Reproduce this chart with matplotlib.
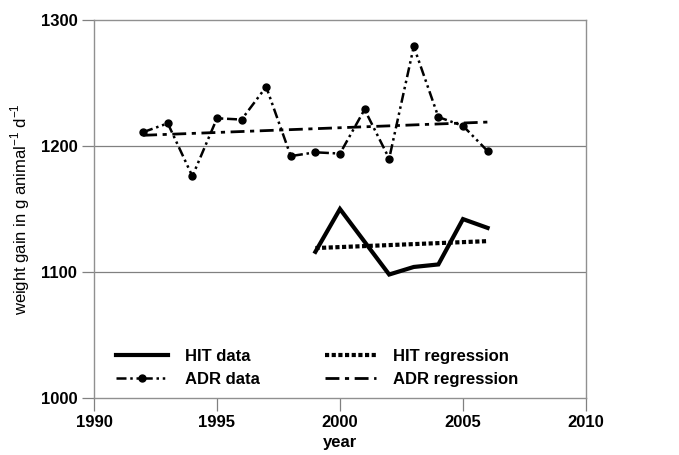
import matplotlib.pyplot as plt

# ADR series
adr_years = [1992, 1993, 1994, 1995, 1996, 1997, 1998, 1999, 2000, 2001, 2002, 2003, 2004, 2005, 2006]
adr_data = [1211, 1218, 1176, 1222, 1221, 1247, 1192, 1195, 1194, 1229, 1190, 1279, 1223, 1216, 1196]
adr_reg_years = [1992, 2006]
adr_reg = [1208.5, 1219]

# HIT series
hit_years = [1999, 2000, 2001, 2002, 2003, 2004, 2005, 2006]
hit_data = [1116, 1150, 1124, 1098, 1104, 1106, 1142, 1135]
hit_reg_years = [1999, 2006]
hit_reg = [1119, 1124.5]

yticks = [1000, 1100, 1200, 1300]
xticks = [1990, 1995, 2000, 2005, 2010]

plt.rcParams['font.family'] = ['Liberation Sans', 'DejaVu Sans']

fig = plt.figure(figsize=(6.79, 4.55), dpi=100)
ax = fig.add_axes([0.1384, 0.1253, 0.7246, 0.8307])

# gridlines
for y in [1100, 1200]:
    ax.axhline(y, color='#808080', linewidth=0.9, zorder=0)

ax.plot(hit_years, hit_data, color='black', linewidth=3, solid_joinstyle='miter',
        label='HIT data')
ax.plot(hit_reg_years, hit_reg, color='black', linewidth=3, linestyle=(0, (1, 0.6)),
        label='HIT regression')
ax.plot(adr_years, adr_data, color='black', linewidth=1.8,
        linestyle=(0, (4, 1.5, 1, 1.5, 1, 1.5)), marker='o', markersize=5,
        label='ADR data')
ax.plot(adr_reg_years, adr_reg, color='black', linewidth=2,
        linestyle=(0, (5, 2, 1.5, 2)), label='ADR regression')

ax.set_xlim(1990, 2010)
ax.set_ylim(1000, 1300)
ax.set_xticks(xticks)
ax.set_yticks(yticks)
ax.tick_params(direction='out', length=9, width=0.9, color='#808080',
               labelsize=12, pad=3)
for lab in ax.get_xticklabels() + ax.get_yticklabels():
    lab.set_fontweight('bold')
for sp in ax.spines.values():
    sp.set_color('#909090')
    sp.set_linewidth(1.0)

ax.set_xlabel('year', fontsize=12, fontweight='bold', labelpad=4)
ax.set_ylabel('weight gain in g animal$^{\\mathregular{-1}}$ d$^{\\mathregular{-1}}$',
              fontsize=12, labelpad=6)

h, l = ax.get_legend_handles_labels()
order = [0, 2, 1, 3]
ax.legend([h[i] for i in order], [l[i] for i in order], ncol=2, frameon=False,
          loc='lower left', bbox_to_anchor=(0.015, -0.01), handlelength=3.1,
          columnspacing=3.9, handletextpad=1.0, labelspacing=0.45,
          prop={'weight': 'bold', 'size': 12})

fig.savefig('out.png', dpi=100)
